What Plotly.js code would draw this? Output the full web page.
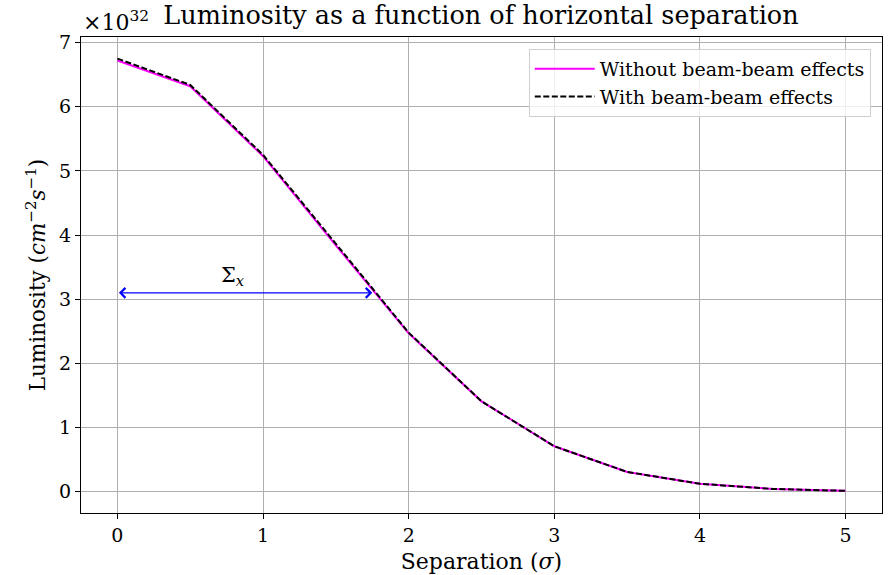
<!DOCTYPE html>
<html>
<head>
<meta charset="utf-8">
<script src="https://cdn.plot.ly/plotly-3.0.1.min.js"></script>
<style>
  html, body { margin: 0; padding: 0; background: #fff; }
  #chart { width: 894px; height: 575px; }
</style>
</head>
<body>
<div id="chart"></div>
<script>
// Separation in units of sigma
const separation = [0, 0.5, 1, 1.5, 2, 2.5, 3, 3.5, 4, 4.5, 5];
// Luminosity in units of 1e32 cm^-2 s^-1
const lumiWithout = [6.72, 6.32, 5.23, 3.84, 2.47, 1.41, 0.71, 0.31, 0.125, 0.045, 0.015];
const lumiWith    = [6.75, 6.34, 5.25, 3.86, 2.48, 1.41, 0.71, 0.31, 0.125, 0.045, 0.015];

// Horizontal marker of the effective beam width
const sigmaStart = 0;
const sigmaEnd = 1.75;
const sigmaLevel = 3.1;

const FONT = "'DejaVu Serif', 'Liberation Serif', serif";

const traces = [
  {
    x: separation, y: lumiWithout, type: 'scatter', mode: 'lines',
    name: 'Without beam-beam effects',
    line: { color: '#ff00ff', width: 2 }
  },
  {
    x: separation, y: lumiWith, type: 'scatter', mode: 'lines',
    name: 'With beam-beam effects',
    line: { color: '#000000', width: 2, dash: '6px,2.5px' }
  }
];

const layout = {
  width: 894, height: 575,
  margin: { l: 81, r: 12, t: 37, b: 62 },
  paper_bgcolor: '#ffffff', plot_bgcolor: '#ffffff',
  font: { family: FONT, color: '#000', size: 19 },
  showlegend: true,
  title: {
    text: 'Luminosity as a function of horizontal separation',
    font: { family: FONT, size: 25.5, color: '#000' },
    x: 0.538, xanchor: 'center', y: 0.99, yanchor: 'top'
  },
  xaxis: {
    range: [-0.25, 5.25], tickvals: [0, 1, 2, 3, 4, 5],
    showgrid: true, gridcolor: '#b0b0b0', gridwidth: 1,
    zeroline: false, showline: true, linecolor: '#000', linewidth: 1.2, mirror: true,
    ticks: 'outside', ticklen: 5, tickcolor: '#000', tickwidth: 1,
    tickfont: { family: FONT, size: 19 },
    title: { text: 'Separation (<i>σ</i>)', font: { family: FONT, size: 22 }, standoff: 8 }
  },
  yaxis: {
    range: [-0.33, 7.087], tickvals: [0, 1, 2, 3, 4, 5, 6, 7],
    showgrid: true, gridcolor: '#b0b0b0', gridwidth: 1,
    zeroline: false, showline: true, linecolor: '#000', linewidth: 1.2, mirror: true,
    ticks: 'outside', ticklen: 5, tickcolor: '#000', tickwidth: 1,
    tickfont: { family: FONT, size: 19 },
    title: {
      text: 'Luminosity (<i>cm</i><sup>−2</sup><i>s</i><sup>−1</sup>)',
      font: { family: FONT, size: 21.5 }, standoff: 7
    }
  },
  legend: {
    x: 0.986, xanchor: 'right', y: 0.975, yanchor: 'top',
    bgcolor: 'rgba(255,255,255,0.8)', bordercolor: '#d0d0d0', borderwidth: 1,
    font: { family: FONT, size: 19 },
    itemwidth: 60,
    tracegroupgap: 0
  },
  annotations: [
    {
      xref: 'paper', yref: 'paper', x: 0, y: 1.0, xanchor: 'left', yanchor: 'bottom',
      text: '×10<sup>32</sup>', showarrow: false,
      font: { family: FONT, size: 22 }
    },
    {
      x: sigmaEnd, y: sigmaLevel, ax: sigmaStart, ay: sigmaLevel,
      xref: 'x', yref: 'y', axref: 'x', ayref: 'y',
      text: '', showarrow: true, arrowside: 'end+start',
      arrowhead: 4, arrowsize: 1.6, arrowwidth: 1.2, arrowcolor: '#0000ff'
    },
    {
      x: (sigmaStart + sigmaEnd) / 2 - 0.08, y: sigmaLevel, xref: 'x', yref: 'y',
      yanchor: 'bottom', yshift: 2,
      text: 'Σ<sub><i>x</i></sub>', showarrow: false,
      font: { family: FONT, size: 21 }
    }
  ]
};

Plotly.newPlot('chart', traces, layout, { displayModeBar: false, staticPlot: true });
</script>
</body>
</html>
